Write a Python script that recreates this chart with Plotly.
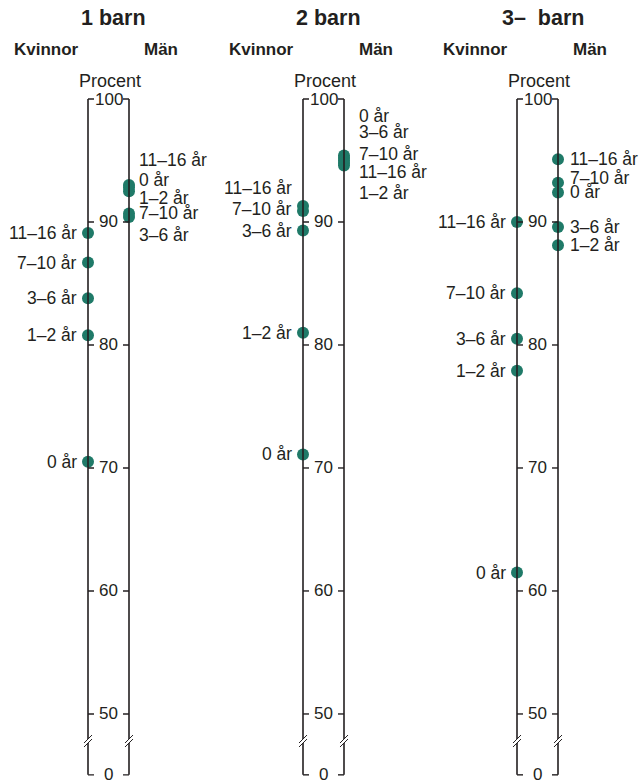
import plotly.graph_objects as go

# age groups (same order in every series)
ages = ["0 år", "1–2 år", "3–6 år", "7–10 år", "11–16 år"]

# percent
kvinnor_1 = [70.5, 80.8, 83.8, 86.7, 89.1]
man_1 = [92.8, 92.5, 90.4, 90.7, 93.0]
kvinnor_2 = [71.1, 81.0, 89.3, 90.9, 91.3]
man_2 = [95.4, 94.6, 95.2, 95.0, 94.8]
kvinnor_3 = [61.5, 77.9, 80.5, 84.2, 90.0]
man_3 = [92.4, 88.1, 89.6, 93.2, 95.1]

panel_titles = ["1 barn", "2 barn", "3–\u00a0\u00a0barn"]
tick_vals = [50, 60, 70, 80, 90, 100]
tick_text = ["50", "60", "70", "80", "90", "100"]

# broken axis: "0" is drawn just below the break
ZERO_POS = 45.05
BREAK_POS = 47.8

# label nudges (pixels up) where labels would overlap
nudge = {
    (0, "Män", "11–16 år"): 25, (0, "Män", "0 år"): 8, (0, "Män", "1–2 år"): -7,
    (0, "Män", "7–10 år"): 0, (0, "Män", "3–6 år"): -18,
    (1, "Kvinnor", "11–16 år"): 18, (1, "Kvinnor", "7–10 år"): 2,
    (1, "Män", "0 år"): 40, (1, "Män", "3–6 år"): 26, (1, "Män", "7–10 år"): 7,
    (1, "Män", "11–16 år"): -9, (1, "Män", "1–2 år"): -28,
    (2, "Män", "7–10 år"): 5,
}

W, H = 642, 781
left_px = [88, 303, 517]
man_xshift = [9, 14, 11]
UNIT = 41  # px between the two lines of a panel
XR = [-1.9, 3.0]

TEAL = "#1f7a68"
INK = "#231f20"
FONT = "Liberation Sans, Arial, sans-serif"


def py(screen_y):
    return 1 - screen_y / H


fig = go.Figure()
panels = [(kvinnor_1, man_1), (kvinnor_2, man_2), (kvinnor_3, man_3)]
shapes = []
annotations = []

for i, (kv, mn) in enumerate(panels):
    xa = "x" if i == 0 else f"x{i+1}"
    ya = "y" if i == 0 else f"y{i+1}"
    L = left_px[i]
    fig.update_layout({
        ("xaxis" if i == 0 else f"xaxis{i+1}"): dict(
            domain=[(L + XR[0] * UNIT) / W, (L + XR[1] * UNIT) / W], range=XR,
            visible=False, anchor=ya, fixedrange=True),
        ("yaxis" if i == 0 else f"yaxis{i+1}"): dict(
            domain=[0, py(74.4)], range=[44.55, 102.0],
            visible=False, anchor=xa, fixedrange=True),
    })

    for xv in (0, 1):
        # axis line with a gap at the break
        shapes.append(dict(type="line", xref=xa, yref=ya, x0=xv, x1=xv,
                           y0=ZERO_POS, y1=BREAK_POS - 0.17,
                           line=dict(color=INK, width=1.6)))
        shapes.append(dict(type="line", xref=xa, yref=ya, x0=xv, x1=xv,
                           y0=BREAK_POS + 0.17, y1=100,
                           line=dict(color=INK, width=1.6)))
        for d in (-2, 2):
            shapes.append(dict(type="line", xref=xa, yref=ya,
                               xsizemode="pixel", ysizemode="pixel",
                               xanchor=xv, yanchor=BREAK_POS,
                               x0=-4, x1=4, y0=d - 4, y1=d + 4,
                               line=dict(color=INK, width=1)))
        # ticks pointing inwards
        for tv in [ZERO_POS] + tick_vals:
            x0, x1 = (0, 6) if xv == 0 else (-6, 0)
            shapes.append(dict(type="line", xref=xa, yref=ya,
                               xsizemode="pixel", xanchor=xv, x0=x0, x1=x1,
                               y0=tv, y1=tv, line=dict(color=INK, width=1.4)))

    # tick labels between the lines
    for tv, tt in zip([ZERO_POS] + tick_vals, ["0"] + tick_text):
        annotations.append(dict(x=0.5, y=tv, xref=xa, yref=ya, text=tt,
                                showarrow=False, xanchor="center", yanchor="middle",
                                font=dict(size=17, color=INK)))

    fig.add_trace(go.Scatter(x=[0] * len(kv), y=kv, xaxis=xa, yaxis=ya,
                             mode="markers", cliponaxis=False, hoverinfo="skip",
                             marker=dict(size=12, color=TEAL)))
    fig.add_trace(go.Scatter(x=[1] * len(mn), y=mn, xaxis=xa, yaxis=ya,
                             mode="markers", cliponaxis=False, hoverinfo="skip",
                             marker=dict(size=12, color=TEAL)))

    for age, v in zip(ages, kv):
        annotations.append(dict(x=0, y=v, xref=xa, yref=ya, text=age,
                                showarrow=False, xanchor="right", yanchor="middle",
                                xshift=-10, yshift=nudge.get((i, "Kvinnor", age), 0),
                                borderpad=0,
                                font=dict(size=17.5, color=INK)))
    for age, v in zip(ages, mn):
        annotations.append(dict(x=1, y=v, xref=xa, yref=ya, text=age,
                                showarrow=False, xanchor="left", yanchor="middle",
                                xshift=man_xshift[i], yshift=nudge.get((i, "Män", age), 0),
                                borderpad=0,
                                font=dict(size=17.5, color=INK)))

    # headers
    annotations.append(dict(x=0.5, y=py(18), xref=xa, yref="paper",
                            text="<b>" + panel_titles[i] + "</b>", showarrow=False,
                            xanchor="center", yanchor="middle", xshift=5,
                            font=dict(size=21.5, color=INK)))
    annotations.append(dict(x=0, y=py(50), xref=xa, yref="paper",
                            text="<b>Kvinnor</b>", showarrow=False,
                            xanchor="center", yanchor="middle", xshift=-42,
                            font=dict(size=17, color=INK)))
    annotations.append(dict(x=1, y=py(50), xref=xa, yref="paper",
                            text="<b>Män</b>", showarrow=False,
                            xanchor="center", yanchor="middle", xshift=32,
                            font=dict(size=17, color=INK)))
    annotations.append(dict(x=0.5, y=py(81), xref=xa, yref="paper",
                            text="Procent", showarrow=False,
                            xanchor="center", yanchor="middle", xshift=1,
                            font=dict(size=18, color=INK)))

fig.update_layout(width=W, height=H, margin=dict(l=0, r=0, t=0, b=0),
                  showlegend=False, plot_bgcolor="white", paper_bgcolor="white",
                  font=dict(family=FONT, color=INK),
                  shapes=shapes, annotations=annotations)

# drop the page's default body margin so the figure fills the window
fig.write_html("out.html", config={"displayModeBar": False},
               post_script="document.body.style.margin='0';document.body.style.overflow='hidden';")
